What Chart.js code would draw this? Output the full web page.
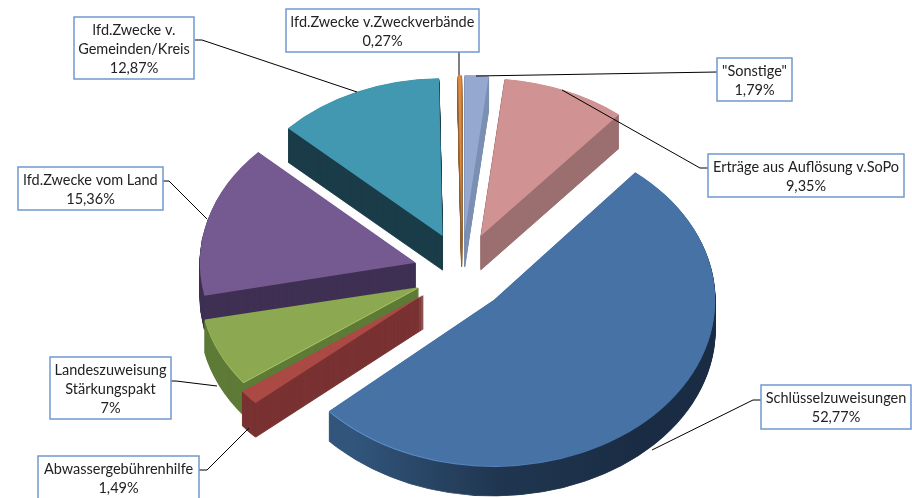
<!DOCTYPE html>
<html>
<head>
<meta charset="utf-8">
<style>
html, body { margin: 0; padding: 0; background: #fff; overflow: hidden; }
canvas { display: block; }
</style>
<script src="https://cdn.jsdelivr.net/npm/chart.js@4"></script>
</head>
<body>
<canvas id="myChart" width="912" height="498"></canvas>
<script>
const categories = ['"Sonstige"', 'Erträge aus Auflösung v.SoPo', 'Schlüsselzuweisungen', 'Abwassergebührenhilfe',
    'Landeszuweisung Stärkungspakt', 'lfd.Zwecke vom Land', 'lfd.Zwecke v. Gemeinden/Kreis', 'lfd.Zwecke v.Zweckverbände'];
const values = [1.79, 9.35, 52.77, 1.49, 7, 15.36, 12.87, 0.27];
const valueLabels = ['1,79%', '9,35%', '52,77%', '1,49%', '7%', '15,36%', '12,87%', '0,27%'];
const labelLines = [['"Sonstige"'], ['Erträge aus Auflösung v.SoPo'], ['Schlüsselzuweisungen'], ['Abwassergebührenhilfe'],
    ['Landeszuweisung', 'Stärkungspakt'], ['lfd.Zwecke vom Land'], ['lfd.Zwecke v.', 'Gemeinden/Kreis'], ['lfd.Zwecke v.Zweckverbände']];

const topColors = ['#95a9d0', '#d09292', '#4672a6', '#ab4a44', '#8ca850', '#755a91', '#4198b0', '#e08a40'];
const sideColors = ['#7b90b3', '#9b6f6f', '#1b2d45', '#7a3232', '#5f7b38', '#3f3053', '#1b3c49', '#8f6236'];
const explode = [48, 48, 44, 50, 50, 50, 48, 48];
const drawOrder = [7, 6, 0, 1, 5, 4, 3, 2];

// the original has some perspective: front slices come out larger than back ones
const scaleX = [1, 1, 1.025, 1.045, 1.01, 1, 0.98, 1];
const scaleY = [0.975, 0.975, 1.025, 1, 0.98, 1, 0.975, 0.975];
const nudgeX = [0, 0, 0, 0, 2, 2, 0, 0];
const nudgeY = [0, 0, 8, 2, 3, 4, 0, 0];
const depths = [34, 34, 30, 34, 33, 34, 34, 34];

// x, y, w, h of each label box, then the leader line
const boxes = [[717, 58, 75, 43], [708, 154, 196, 43], [761, 385, 150, 44], [38, 456, 161, 44],
    [50, 357, 121, 62], [18, 167, 145, 43], [74, 17, 120, 62], [286, 9, 193, 43]];
const leaders = [
    [[717, 72], [476, 76]],
    [[708, 168], [700, 168], [562, 90]],
    [[761, 400], [753, 400], [652, 450]],
    [[199, 470], [207, 470], [249, 428]],
    [[171, 381], [176, 381], [217, 386]],
    [[163, 181], [169, 181], [207, 219]],
    [[195, 40], [202, 40], [357, 92]],
    [[459, 52], [459, 75]]
];

const centerX = 462, centerY = 269, tilt = 0.75;

function placeSlice(ctx, arc, i, lift){
    const mid = (arc.startAngle + arc.endAngle) / 2;
    ctx.translate(centerX + nudgeX[i], centerY + nudgeY[i] + lift);
    ctx.scale(1, tilt);
    ctx.translate(Math.cos(mid) * explode[i], Math.sin(mid) * explode[i]);
    ctx.scale(scaleX[i], scaleY[i]);
    ctx.translate(-arc.x, -arc.y);
}

function paintSlice(ctx, arc, i, lift, color, outlined){
    const original = arc.options;
    const look = {backgroundColor: color};
    if (outlined){
        // closes the thin tips of the narrow wedges
        look.borderColor = color;
        look.borderWidth = 1;
    }
    arc.options = Object.assign(Object.create(original), look);
    ctx.save();
    placeSlice(ctx, arc, i, lift);
    arc.draw(ctx);
    ctx.restore();
    arc.options = original;
}

const pie3d = {
    id: 'pie3d',
    beforeDatasetsDraw(chart){
        const ctx = chart.ctx;
        const arcs = chart.getDatasetMeta(0).data;
        // blue side gets lighter towards its left end
        const blueSide = ctx.createLinearGradient(320, 0, 600, 0);
        blueSide.addColorStop(0, '#31557b');
        blueSide.addColorStop(0.5, '#203650');
        blueSide.addColorStop(1, '#1a2c44');
        const blueRim = ctx.createLinearGradient(320, 0, 560, 0);
        blueRim.addColorStop(0, '#6397d8');
        blueRim.addColorStop(1, '#4672a6');
        drawOrder.forEach(i => {
            const side = i == 2 ? blueSide : sideColors[i];
            for (let lift = depths[i]; lift > 0; lift--){
                paintSlice(ctx, arcs[i], i, lift, side, true);
            }
            if (i == 2) paintSlice(ctx, arcs[i], i, 1, blueRim);
            if (i == 4) paintSlice(ctx, arcs[i], i, 1, '#a9c862');
            paintSlice(ctx, arcs[i], i, 0, topColors[i]);
        });
        return false;
    },
    afterDraw(chart){
        const ctx = chart.ctx;
        ctx.save();
        ctx.strokeStyle = '#000';
        ctx.lineWidth = 1;
        leaders.forEach(points => {
            ctx.beginPath();
            points.forEach((p, n) => n ? ctx.lineTo(p[0], p[1]) : ctx.moveTo(p[0], p[1]));
            ctx.stroke();
        });
        ctx.font = '14.5px Lato';
        ctx.textAlign = 'center';
        ctx.textBaseline = 'middle';
        boxes.forEach((b, i) => {
            ctx.fillStyle = '#fff';
            ctx.fillRect(b[0], b[1], b[2], b[3]);
            ctx.strokeStyle = '#6f98cf';
            ctx.lineWidth = 1.5;
            ctx.strokeRect(b[0], b[1], b[2], b[3]);
            ctx.fillStyle = '#222';
            labelLines[i].concat(valueLabels[i]).forEach((line, n) => {
                ctx.fillText(line, b[0] + b[2] / 2, b[1] + 13 + n * 19);
            });
        });
        ctx.restore();
    }
};

new Chart(document.getElementById('myChart'), {
    type: 'pie',
    data: {
        labels: categories,
        datasets: [{
            data: values,
            backgroundColor: topColors,
            borderWidth: 0
        }]
    },
    options: {
        responsive: false,
        animation: false,
        radius: 216,
        plugins: {
            legend: {display: false},
            tooltip: {enabled: false}
        }
    },
    plugins: [pie3d]
});
</script>
</body>
</html>
